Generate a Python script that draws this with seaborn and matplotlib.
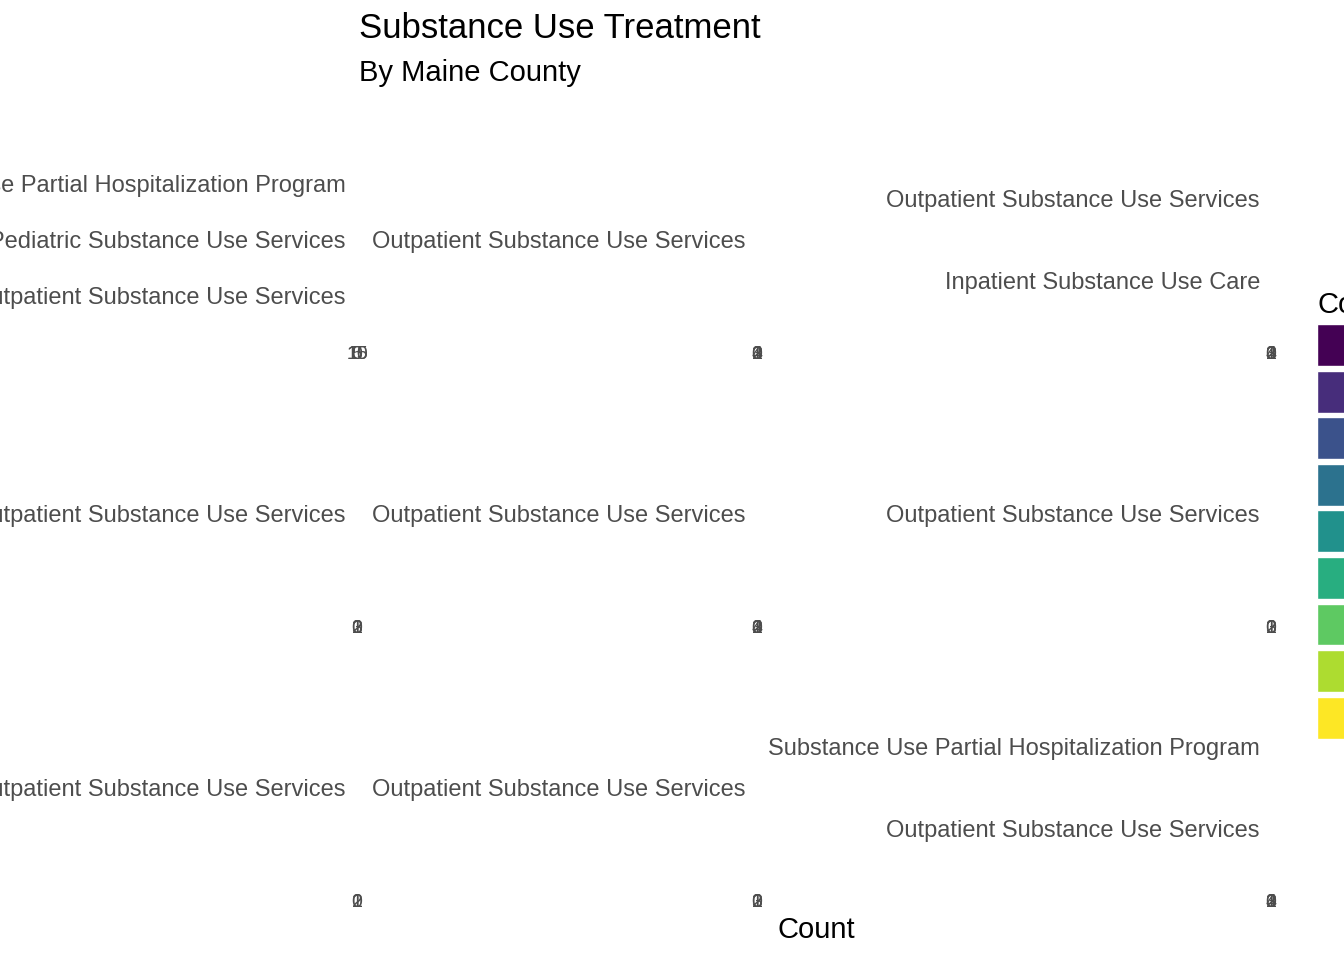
import matplotlib
matplotlib.use("Agg")
import matplotlib.pyplot as plt
import seaborn as sns
import pandas as pd
import numpy as np
from matplotlib.patches import Patch

counties = ["Androscoggin", "Aroostook", "Cumberland", "Kennebec", "Knox",
            "Penobscot", "Sagadahoc", "Waldo", "York"]
services = [
    ["Outpatient Substance Use Services", "Pediatric Substance Use Services",
     "Substance Use Partial Hospitalization Program"],
    ["Outpatient Substance Use Services"],
    ["Inpatient Substance Use Care", "Outpatient Substance Use Services"],
    ["Outpatient Substance Use Services"],
    ["Outpatient Substance Use Services"],
    ["Outpatient Substance Use Services"],
    ["Outpatient Substance Use Services"],
    ["Outpatient Substance Use Services"],
    ["Outpatient Substance Use Services", "Substance Use Partial Hospitalization Program"],
]
counts = [[16, 1, 1], [4], [1, 4], [3], [4], [3], [2], [3], [4, 1]]
xticks = [[0, 5, 10, 15], [0, 1, 2, 3, 4], [0, 1, 2, 3, 4],
          [0, 1, 2, 3], [0, 1, 2, 3, 4], [0, 1, 2, 3],
          [0, 1, 2], [0, 1, 2, 3], [0, 1, 2, 3, 4]]

sns.set_theme(style="white")
plt.rcParams["font.family"] = ["Liberation Sans", "DejaVu Sans"]
plt.rcParams["text.color"] = "black"

W, H = 1344, 960
fig = plt.figure(figsize=(W / 100, H / 100), dpi=100)
cmap = plt.get_cmap("viridis")
colors = [cmap(v) for v in np.linspace(0, 1, len(counties))]

col_x = [357, 757, 1271]
row_top = [150, 424, 698]
ph = 179
for i, county in enumerate(counties):
    r, c = divmod(i, 3)
    ax = fig.add_axes([col_x[c] / W, 1 - (row_top[r] + ph) / H, 0.01 / W, ph / H])
    df = pd.DataFrame({"service": services[i], "count": counts[i]})
    order = services[i][::-1]
    sns.barplot(data=df, y="service", x="count", order=order, color=colors[i],
                ax=ax, linewidth=0)
    n = len(order)
    ax.set_ylim(n - 1 + 0.6, -0.6)
    ax.set_xlim(0, max(counts[i]))
    ax.set_xticks(xticks[i])
    ax.set_xticklabels([str(t) for t in xticks[i]])
    ax.tick_params(axis="y", labelsize=17, colors="#4d4d4d", length=0, pad=8)
    ax.tick_params(axis="x", labelsize=14, colors="#4d4d4d", length=0, pad=12)
    ax.set_xlabel("")
    ax.set_ylabel("")
    for s in ax.spines.values():
        s.set_visible(False)
    ax.set_facecolor("none")

fig.text(359 / W, 1 - 28 / H, "Substance Use Treatment", fontsize=25, va="center")
fig.text(359 / W, 1 - 73 / H, "By Maine County", fontsize=21, va="center")
fig.text(816 / W, 1 - 930 / H, "Count", fontsize=21, ha="center", va="center")

handles = [Patch(facecolor=colors[i], edgecolor="white", label=counties[i])
           for i in range(len(counties))]
leg = fig.legend(handles=handles, title="County", loc="upper left",
                 bbox_to_anchor=(1308 / W, 1 - 282 / H), frameon=False,
                 handlelength=2.3, handleheight=2.35, labelspacing=0.2,
                 handletextpad=0.5, borderaxespad=0,
                 fontsize=17, title_fontsize=21, alignment="left")

fig.savefig("out.png", dpi=100)
